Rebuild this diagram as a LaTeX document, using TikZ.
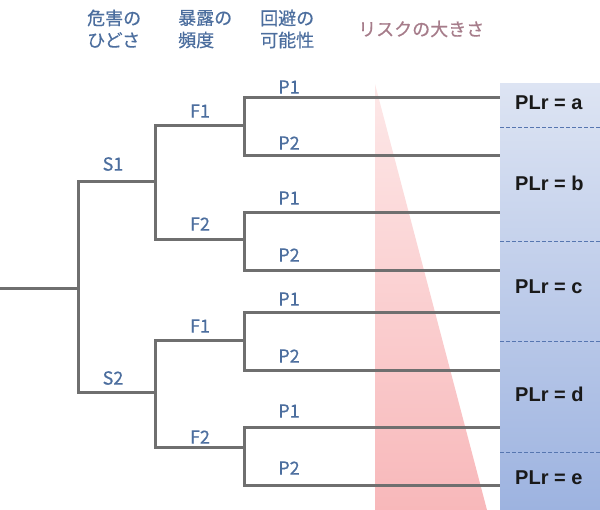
\documentclass[tikz,border=0pt]{standalone}
\usepackage{fontspec}
\newfontfamily\jpfont[FakeBold=0.6]{Noto Sans CJK JP}
\newfontfamily\jpheadfont[FakeBold=0.4]{Noto Sans CJK JP}
\newfontfamily\plfont{Liberation Sans}
\definecolor{linegray}{HTML}{6F6F6F}
\definecolor{labblue}{HTML}{4C6E9E}
\definecolor{riskcol}{HTML}{A67C8A}
\definecolor{colTop}{HTML}{DDE4F3}
\definecolor{colBot}{HTML}{9DB3E0}
\definecolor{triTop}{HTML}{FDE8E8}
\definecolor{triBot}{HTML}{F8B8BA}
\definecolor{dashcol}{HTML}{5676B0}
\begin{document}
\begin{tikzpicture}[x=1pt,y=-1pt,
  tree/.style={draw=linegray,line width=3pt,line join=miter},
  lab/.style={text=labblue,font=\jpfont\fontsize{18}{20}\selectfont,inner sep=0pt},
  head/.style={text=labblue,font=\jpheadfont\fontsize{18}{20}\selectfont,inner sep=0pt,anchor=west},
  plr/.style={font=\plfont\bfseries\fontsize{20}{22}\selectfont,inner sep=0pt,anchor=base west,text=black!90},
  divider/.style={draw=dashcol,line width=0.8pt,dash pattern=on 4pt off 2pt}]
\useasboundingbox (0,0) rectangle (600,510);
% background shapes
\shade[top color=colTop,bottom color=colBot] (500,84) rectangle (600,510);
\shade[top color=triTop,bottom color=triBot] (375,84) -- (375,510) -- (487,510) -- cycle;
% coordinates
\coordinate (root) at (0,289);
\coordinate (j0) at (78,289);
\coordinate (s1) at (155,182);
\coordinate (s2) at (155,393);
\coordinate (f11) at (244,126);
\coordinate (f12) at (244,240);
\coordinate (f21) at (244,341);
\coordinate (f22) at (244,448);
\coordinate (p1) at (500,98);
\coordinate (p2) at (500,156);
\coordinate (p3) at (500,213);
\coordinate (p4) at (500,271);
\coordinate (p5) at (500,313);
\coordinate (p6) at (500,371);
\coordinate (p7) at (500,428);
\coordinate (p8) at (500,486);
% tree
\draw[tree] (root) -- (j0);
\draw[tree] (j0) |- (s1);
\draw[tree] (j0) |- (s2);
\draw[tree] (s1) |- (f11);
\draw[tree] (s1) |- (f12);
\draw[tree] (s2) |- (f21);
\draw[tree] (s2) |- (f22);
\draw[tree] (f11) |- (p1);
\draw[tree] (f11) |- (p2);
\draw[tree] (f12) |- (p3);
\draw[tree] (f12) |- (p4);
\draw[tree] (f21) |- (p5);
\draw[tree] (f21) |- (p6);
\draw[tree] (f22) |- (p7);
\draw[tree] (f22) |- (p8);
% dividers
\coordinate (d1a) at (500,127); \coordinate (d1b) at (600,127);
\coordinate (d2a) at (500,241); \coordinate (d2b) at (600,241);
\coordinate (d3a) at (500,341); \coordinate (d3b) at (600,341);
\coordinate (d4a) at (500,452); \coordinate (d4b) at (600,452);
\draw[divider] (d1a) -- (d1b);
\draw[divider] (d2a) -- (d2b);
\draw[divider] (d3a) -- (d3b);
\draw[divider] (d4a) -- (d4b);
% labels
\node[lab] (lS1) at (113,164) {S1};
\node[lab] (lS2) at (113,378) {S2};
\node[lab] (lF11) at (200,111) {F1};
\node[lab] (lF12) at (200,224) {F2};
\node[lab] (lF21) at (200,326) {F1};
\node[lab] (lF22) at (200,437) {F2};
\node[lab] (lP1) at (289,87) {P1};
\node[lab] (lP2) at (289,143) {P2};
\node[lab] (lP3) at (289,198) {P1};
\node[lab] (lP4) at (289,255) {P2};
\node[lab] (lP5) at (289,299) {P1};
\node[lab] (lP6) at (289,356) {P2};
\node[lab] (lP7) at (289,411) {P1};
\node[lab] (lP8) at (289,468) {P2};
% headers
\node[head] (h1a) at (87,18) {危害の};
\node[head] (h1b) at (87,40) {ひどさ};
\node[head] (h2a) at (178,18) {暴露の};
\node[head] (h2b) at (178,40) {頻度};
\node[head] (h3a) at (260,18) {回避の};
\node[head] (h3b) at (260,40) {可能性};
\node[head,font=\jpfont\fontsize{18}{20}\selectfont,text=riskcol] (h4) at (358,29) {リスクの大きさ};
% PLr
\node[plr] (pla) at (515,110) {PLr = a};
\node[plr] (plb) at (515,190.5) {PLr = b};
\node[plr] (plc) at (515,294) {PLr = c};
\node[plr] (pld) at (515,401.5) {PLr = d};
\node[plr] (ple) at (515,485) {PLr = e};
\end{tikzpicture}
\end{document}
